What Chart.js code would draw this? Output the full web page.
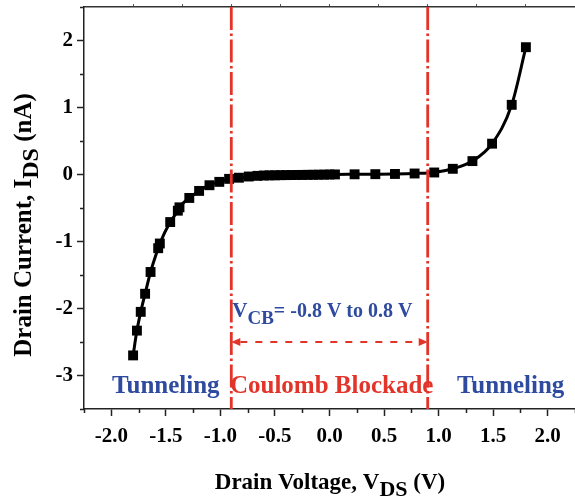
<!DOCTYPE html>
<html>
<head>
<meta charset="utf-8">
<script src="https://cdn.jsdelivr.net/npm/chart.js@4.4.0/dist/chart.umd.min.js"></script>
<style>
    html, body { margin: 0; padding: 0; background: #fff; overflow: hidden; }
    #wrap { width: 582px; height: 497px; }
</style>
</head>
<body>
<div id="wrap"><canvas id="ivChart"></canvas></div>
<script>
// --- DATA ---
const vds = [
    -1.80, -1.765, -1.73, -1.69, -1.64, -1.57, -1.555, -1.46, -1.39, -1.375,
    -1.285, -1.195, -1.10, -1.01, -0.92, -0.83, -0.74, -0.66,
    -0.60, -0.55, -0.50, -0.45, -0.40, -0.35, -0.30, -0.25, -0.20, -0.15, -0.10, -0.05, 0.00, 0.05,
    0.23, 0.42, 0.60, 0.78, 0.96, 1.13, 1.31, 1.49, 1.67, 1.80
];
const ids = [
    -2.70, -2.33, -2.05, -1.78, -1.455, -1.10, -1.03, -0.71, -0.54, -0.49,
    -0.35, -0.245, -0.16, -0.11, -0.065, -0.048, -0.03, -0.02,
    -0.015, -0.013, -0.012, -0.010, -0.009, -0.008, -0.007, -0.006, -0.005, -0.004, -0.003, -0.002, 0.000, 0.001,
    0.003, 0.005, 0.008, 0.015, 0.03, 0.085, 0.20, 0.46, 1.04, 1.90
];
const xMajorTicks = [-2.0, -1.5, -1.0, -0.5, 0.0, 0.5, 1.0, 1.5, 2.0];
const xMinorTicks = [-2.25, -1.75, -1.25, -0.75, -0.25, 0.25, 0.75, 1.25, 1.75, 2.25];
const yMajorTicks = [-3, -2, -1, 0, 1, 2];
const yMinorTicks = [-3.5, -2.5, -1.5, -0.5, 0.5, 1.5, 2.5];
const topTicks = [1, 2, 3, 4, 5, 6, 7, 8, 9];

// Coulomb blockade window and annotations
const blockadeEdges = [-0.9, 0.9];
const arrowLevel = -2.5;
const regionNames = ['Tunneling', 'Coulomb Blockade', 'Tunneling'];
const regionCenters = [-1.50, 0.02, 1.66];
const regionLevel = -3.26;
const vcbLevel = -2.12;

const RED = '#e3342a';
const BLUE = '#2e4b9f';
const SERIF = '"Liberation Serif", "Times New Roman", serif';

// draws a run of text pieces (for subscripts)
function drawRun(ctx, parts, x, y, align) {
    let total = 0;
    parts.forEach(p => {
        ctx.font = 'bold ' + p.size + 'px ' + SERIF;
        p.w = ctx.measureText(p.t).width;
        total += p.w;
    });
    let cx = align === 'center' ? x - total / 2 : x;
    ctx.textAlign = 'left';
    ctx.textBaseline = 'alphabetic';
    parts.forEach(p => {
        ctx.font = 'bold ' + p.size + 'px ' + SERIF;
        ctx.fillText(p.t, cx, y + (p.dy || 0));
        cx += p.w;
    });
}

// no extra padding for the tick labels at the ends
function fixPadding(s) {
    s.paddingTop = 0;
    s.paddingBottom = 0;
    s.paddingLeft = 0;
    s.paddingRight = 0;
}

const annotations = {
    id: 'annotations',
    afterDatasetsDraw(chart) {
        const ctx = chart.ctx;
        const xs = chart.scales.x;
        const ys = chart.scales.y;
        const area = chart.chartArea;
        ctx.save();

        // minor ticks
        ctx.strokeStyle = '#222';
        ctx.lineWidth = 1.5;
        ctx.beginPath();
        xMinorTicks.forEach(v => {
            const px = Math.round(xs.getPixelForValue(v)) + 0.5;
            ctx.moveTo(px, area.bottom);
            ctx.lineTo(px, area.bottom + 4);
        });
        yMinorTicks.forEach(v => {
            const py = Math.round(ys.getPixelForValue(v)) + 0.5;
            ctx.moveTo(area.left, py);
            ctx.lineTo(area.left - 4, py);
        });
        ctx.stroke();

        // vertical dash-dot lines
        ctx.strokeStyle = RED;
        ctx.lineWidth = 2.8;
        ctx.setLineDash([23, 3.5, 2.5, 3.5]);
        blockadeEdges.forEach(v => {
            const px = xs.getPixelForValue(v);
            ctx.beginPath();
            ctx.moveTo(px, area.top);
            ctx.lineTo(px, area.bottom);
            ctx.stroke();
        });

        // double arrow
        const xl = xs.getPixelForValue(blockadeEdges[0]);
        const xr = xs.getPixelForValue(blockadeEdges[1]);
        const ya = ys.getPixelForValue(arrowLevel);
        ctx.lineWidth = 2.2;
        ctx.setLineDash([7, 8]);
        ctx.beginPath();
        ctx.moveTo(xl + 9, ya);
        ctx.lineTo(xr - 9, ya);
        ctx.stroke();
        ctx.setLineDash([]);
        ctx.fillStyle = RED;
        ctx.beginPath();
        ctx.moveTo(xl, ya); ctx.lineTo(xl + 9, ya - 4); ctx.lineTo(xl + 9, ya + 4); ctx.closePath();
        ctx.moveTo(xr, ya); ctx.lineTo(xr - 9, ya - 4); ctx.lineTo(xr - 9, ya + 4); ctx.closePath();
        ctx.fill();

        // V_CB label
        ctx.fillStyle = BLUE;
        drawRun(ctx, [
            { t: 'V', size: 21 },
            { t: 'CB', size: 19, dy: 7 },
            { t: '= -0.8 V to 0.8 V', size: 20 }
        ], xl + 1, ys.getPixelForValue(vcbLevel), 'left');

        // region labels
        regionNames.forEach((name, i) => {
            ctx.fillStyle = i === 1 ? RED : BLUE;
            drawRun(ctx, [{ t: name, size: 25 }], xs.getPixelForValue(regionCenters[i]), ys.getPixelForValue(regionLevel), 'center');
        });

        // axis titles
        ctx.fillStyle = '#000';
        drawRun(ctx, [
            { t: 'Drain Voltage, V', size: 23 },
            { t: 'DS', size: 22, dy: 7 },
            { t: ' (V)', size: 23 }
        ], 330, 489, 'center');

        ctx.translate(31, 225);
        ctx.rotate(-Math.PI / 2);
        drawRun(ctx, [
            { t: 'Drain Current, I', size: 25 },
            { t: 'DS', size: 24, dy: 7 },
            { t: ' (nA)', size: 25 }
        ], 0, 0, 'center');

        ctx.restore();
    }
};

// --- CHART ---
function buildChart() {
    const points = vds.map((v, i) => ({ x: v, y: ids[i] }));
    const tickFont = { family: SERIF, size: 21, weight: 'bold' };

    new Chart(document.getElementById('ivChart'), {
        type: 'scatter',
        data: {
            datasets: [{
                data: points,
                showLine: true,
                borderColor: '#000',
                borderWidth: 3,
                cubicInterpolationMode: 'monotone',
                pointStyle: 'rect',
                pointRadius: 7,
                pointBackgroundColor: '#000',
                pointBorderColor: '#000',
                pointBorderWidth: 0
            }]
        },
        options: {
            responsive: true,
            maintainAspectRatio: false,
            animation: false,
            layout: { padding: 0 },
            plugins: { legend: { display: false }, tooltip: { enabled: false } },
            scales: {
                x: {
                    type: 'linear', position: 'bottom', min: -2.25, max: 2.25,
                    afterBuildTicks: s => { s.ticks = xMajorTicks.map(v => ({ value: v })); },
                    afterFit: s => { s.height = 88; fixPadding(s); },
                    grid: { drawOnChartArea: false, tickLength: 7, tickWidth: 1.5, tickColor: '#222' },
                    border: { color: '#222', width: 1.5 },
                    ticks: { color: '#000', font: tickFont, padding: 8, maxRotation: 0, autoSkip: false,
                        callback: v => v.toFixed(1) }
                },
                x2: {
                    type: 'linear', position: 'top', min: 0, max: 10,
                    afterBuildTicks: s => { s.ticks = topTicks.map(v => ({ value: v })); },
                    afterFit: s => { s.height = 3; fixPadding(s); },
                    grid: { drawOnChartArea: false, tickLength: 3, tickWidth: 1, tickColor: '#555' },
                    border: { color: '#333', width: 1.5 },
                    ticks: { display: false }
                },
                y: {
                    type: 'linear', position: 'left', min: -3.5, max: 2.5,
                    afterBuildTicks: s => { s.ticks = yMajorTicks.map(v => ({ value: v })); },
                    afterFit: s => { s.width = 84; fixPadding(s); },
                    grid: { drawOnChartArea: false, tickLength: 7, tickWidth: 1.5, tickColor: '#222' },
                    border: { color: '#222', width: 1.5 },
                    ticks: { color: '#000', font: tickFont, padding: 4, autoSkip: false,
                        callback: v => String(v) }
                }
            }
        },
        plugins: [annotations]
    });
}

buildChart();
</script>
</body>
</html>
